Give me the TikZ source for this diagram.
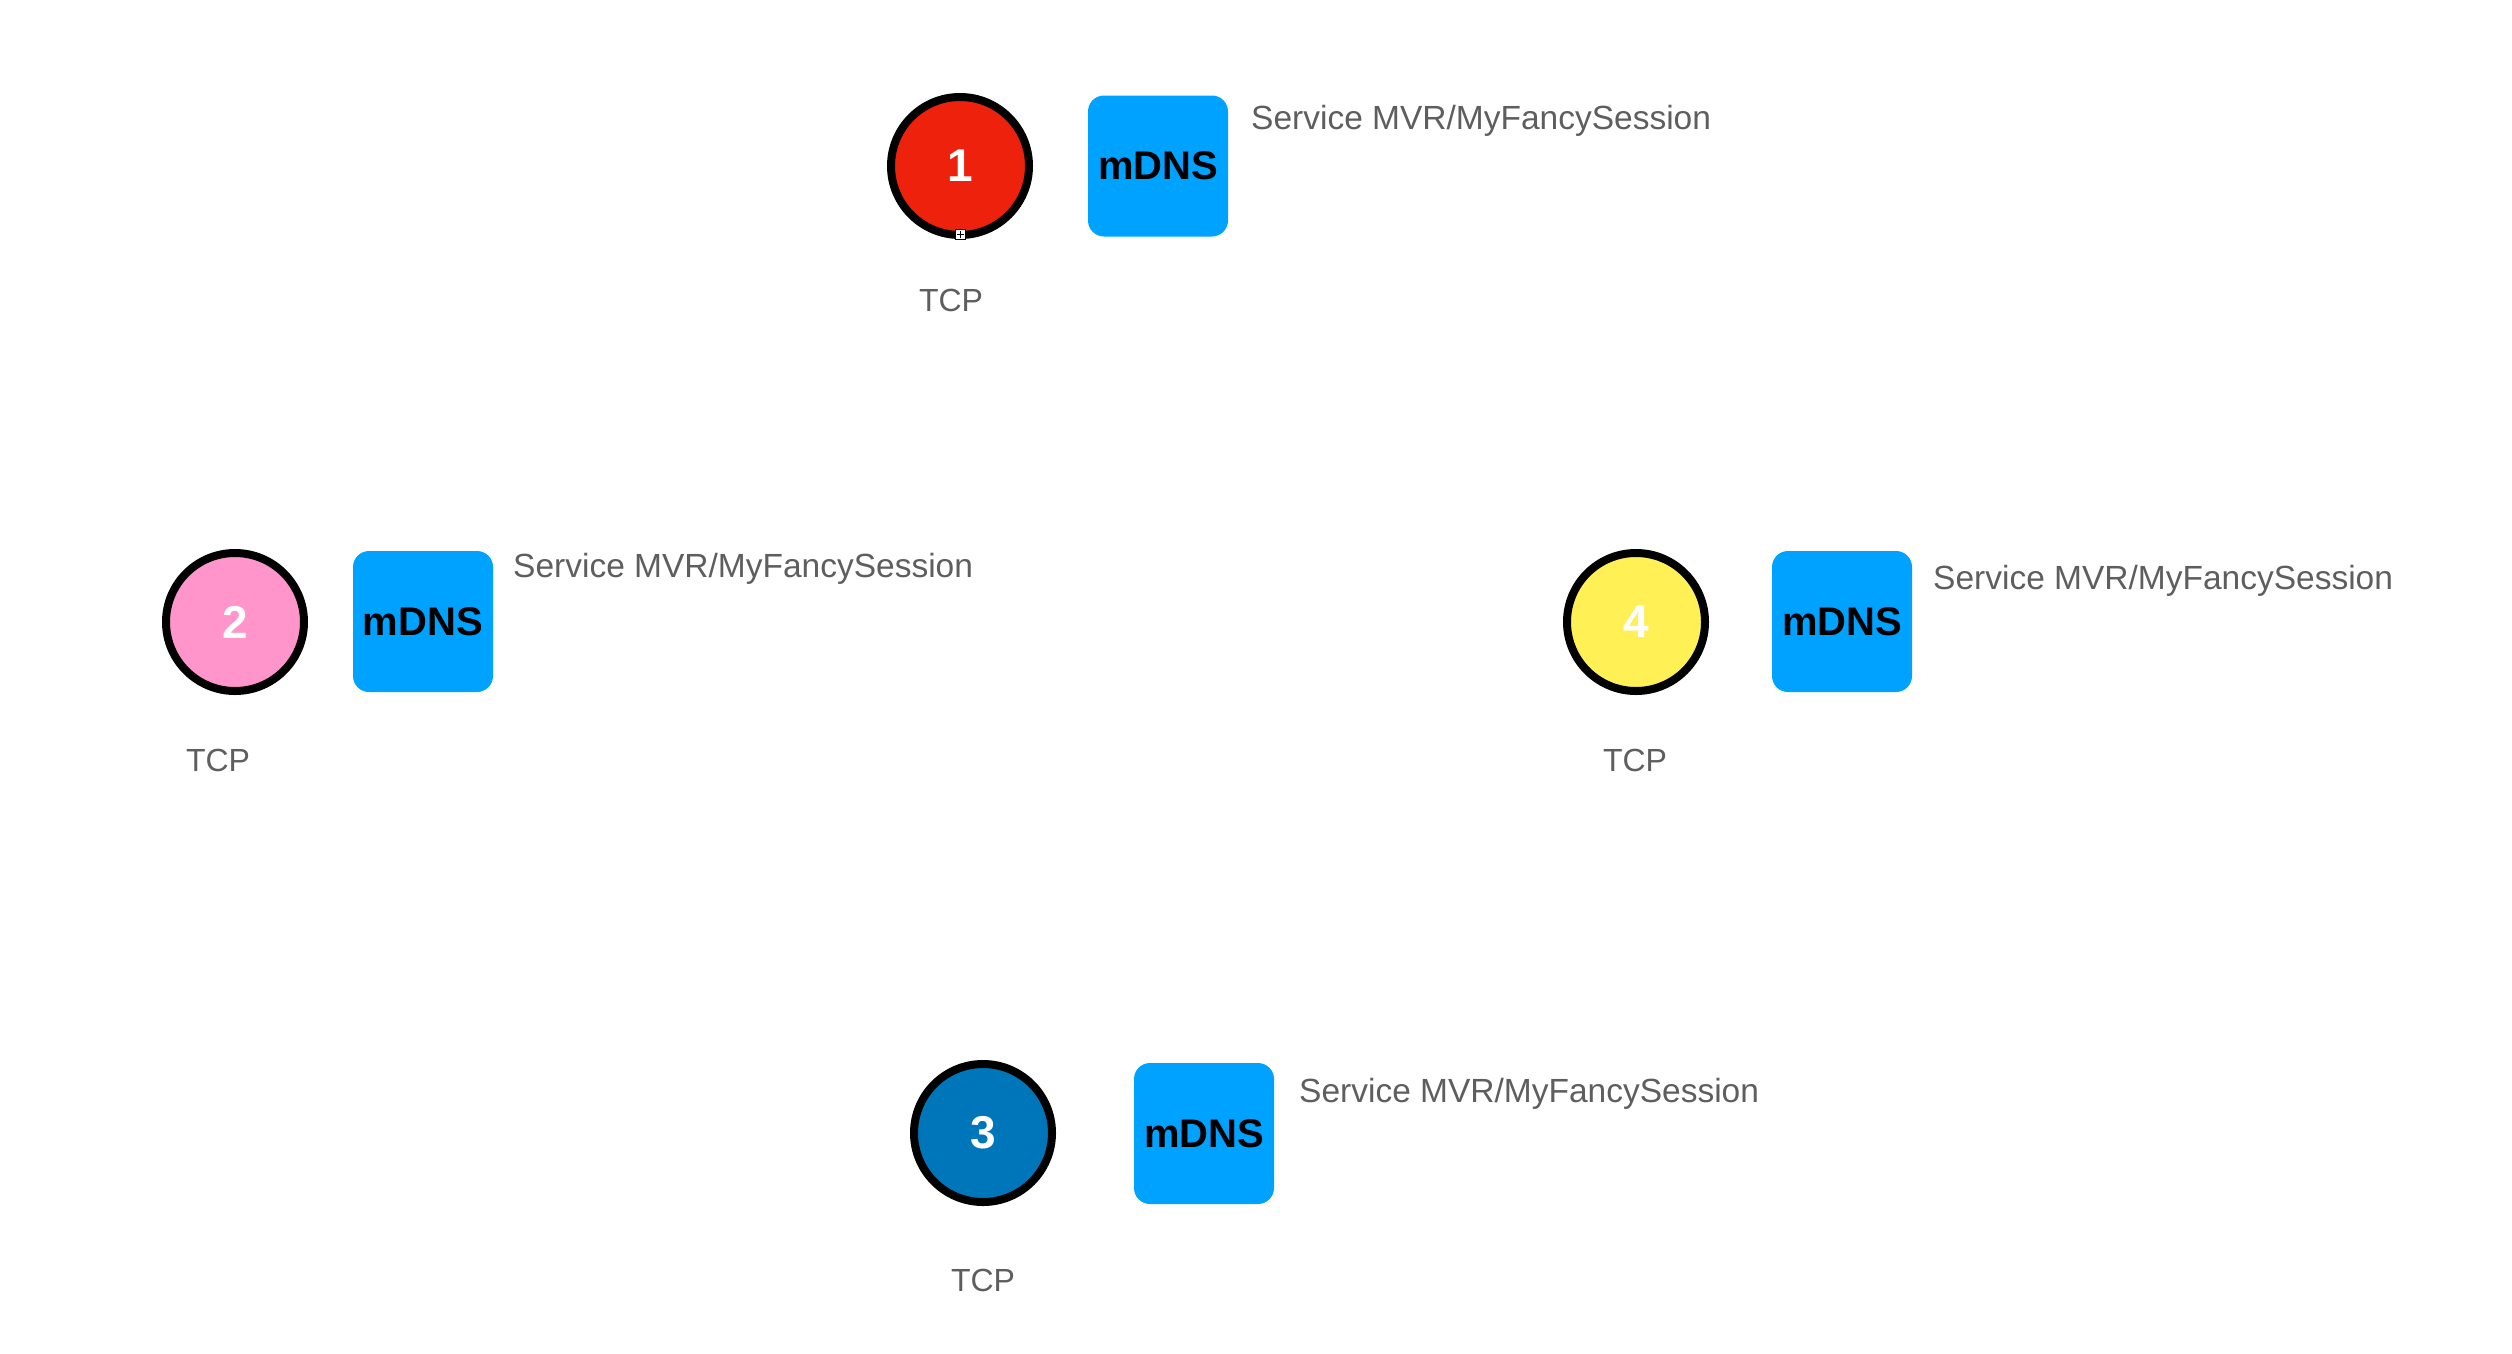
\documentclass[tikz,border=0pt]{standalone}
\usepackage{fontspec}
\setmainfont{Liberation Sans}
\usepackage{tikz}
\usetikzlibrary{shapes, positioning}
\definecolor{peerred}{HTML}{EE220C}
\definecolor{peerpink}{HTML}{FF95CA}
\definecolor{peeryellow}{HTML}{FFF056}
\definecolor{peerblue}{HTML}{0076BA}
\definecolor{mdnsblue}{HTML}{00A2FF}
\definecolor{labelgray}{HTML}{5E5E5E}
\tikzstyle{peer} = [circle, draw=black, line width=8pt, minimum size=138pt, inner sep=0pt, text=white, font=\fontsize{46}{50}\selectfont\bfseries]
\tikzstyle{mdns} = [rectangle, rounded corners=16pt, fill=mdnsblue, minimum width=140pt, minimum height=141pt, inner sep=0pt, font=\fontsize{40}{44}\selectfont\bfseries]
\tikzstyle{svc} = [anchor=base west, inner sep=0pt, text=labelgray, font=\fontsize{33.5}{36}\selectfont]
\tikzstyle{proto} = [anchor=base, inner sep=0pt, text=labelgray, font=\fontsize{32}{35}\selectfont]
\tikzstyle{handle} = [rectangle, draw=black, fill=white, line width=1pt, minimum size=10pt, inner sep=0pt]

\begin{document}
\begin{tikzpicture}[x=1pt, y=-1pt]
  \useasboundingbox (0,0) rectangle (2512,1353);

  % peer 1
  \node[peer, fill=peerred] (P1) at (960,166) {1};
  \node[mdns] (M1) at (1158,166) {mDNS};
  \node[svc] (S1) at (1251,129) {Service MVR/MyFancySession};
  \node[proto] (T1) at (951,311) {TCP};
  \node[handle] (H1) at (960,234.5) {};
  \draw[line width=1pt] ([yshift=-2pt]H1.north) -- ([yshift=2pt]H1.south);
  \draw[line width=1pt] ([xshift=2pt]H1.west) -- ([xshift=-2pt]H1.east);

  % peer 2
  \node[peer, fill=peerpink] (P2) at (235,622) {2};
  \node[mdns] (M2) at (423,621.5) {mDNS};
  \node[svc] (S2) at (513,577) {Service MVR/MyFancySession};
  \node[proto] (T2) at (218,771) {TCP};

  % peer 4
  \node[peer, fill=peeryellow] (P4) at (1636,622) {4};
  \node[mdns] (M4) at (1842,621.5) {mDNS};
  \node[svc] (S4) at (1933,589) {Service MVR/MyFancySession};
  \node[proto] (T4) at (1635,771) {TCP};

  % peer 3
  \node[peer, fill=peerblue] (P3) at (983,1133) {3};
  \node[mdns] (M3) at (1204,1133.5) {mDNS};
  \node[svc] (S3) at (1299,1102) {Service MVR/MyFancySession};
  \node[proto] (T3) at (983,1291) {TCP};
\end{tikzpicture}
\end{document}
